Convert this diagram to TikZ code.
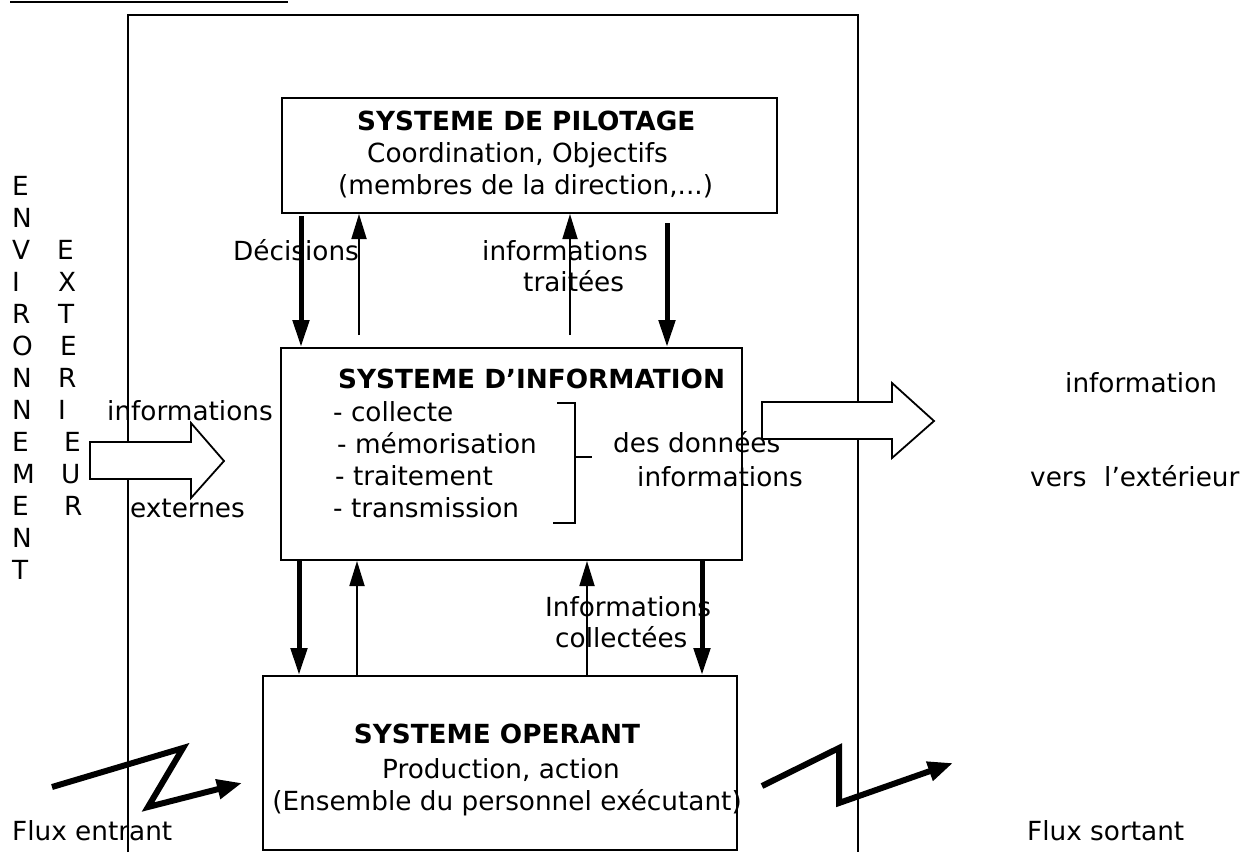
\documentclass[tikz,border=0pt]{standalone}
\usepackage{fontspec}
\setmainfont{DejaVu Sans}
\usetikzlibrary{arrows.meta}
\begin{document}
\begin{tikzpicture}[x=1pt,y=-1pt,
  box/.style={draw,line width=2pt,inner sep=0pt},
  txt/.style={inner sep=0pt,font=\fontsize{26.3}{32}\selectfont},
  btxt/.style={inner sep=0pt,font=\fontsize{26.3}{32}\selectfont\bfseries},
  bigarrow/.style={line width=5pt,-{Triangle[length=27pt,width=16pt]}},
  smallarrow/.style={line width=1.8pt,-{Triangle[length=25pt,width=15pt]}},
  blockarrow/.style={draw,line width=1.8pt,fill=white,line join=miter},
  zig/.style={line width=6pt,line join=miter,-{Triangle[length=25pt,width=19pt]}},
  plain/.style={line width=2pt}
]
\useasboundingbox (0,0) rectangle (1243,852);

% top underline (cut-off heading)
\draw[plain] (10,2) -- (288,2);
% outer frame
\draw[plain] (128,852) -- (128,15) -- (858,15) -- (858,852);

% boxes
\node[box, minimum width=495pt, minimum height=115pt] (pil) at (529.5,155.5) {};
\node[box, minimum width=461pt, minimum height=212pt] (info) at (511.5,454) {};
\node[box, minimum width=474pt, minimum height=174pt] (op) at (500,763) {};

% pilotage texts
\node[btxt, anchor=base west] (pilt) at (357,130) {SYSTEME DE PILOTAGE};
\node[txt, anchor=base west] (pil2) at (367,162) {Coordination, Objectifs};
\node[txt, anchor=base west] (pil3) at (338,194) {(membres de la direction,...)};

% information texts
\node[btxt, anchor=base west] (inft) at (338,388) {SYSTEME D’INFORMATION};
\node[txt, anchor=base west] (i1) at (333,421) {- collecte};
\node[txt, anchor=base west] (i2) at (337,453) {- mémorisation};
\node[txt, anchor=base west] (i3) at (335,485) {- traitement};
\node[txt, anchor=base west] (i4) at (333,517) {- transmission};
\node[txt, anchor=base west] (dd) at (613,452) {des données};
\node[txt, anchor=base west] (di) at (637,486) {informations};

% bracket
\draw[plain] (557,403) -- (575,403) -- (575,523) -- (553,523);
\draw[plain] (575,457) -- (592,457);

% operant texts
\node[btxt, anchor=base] (opt) at (497,743) {SYSTEME OPERANT};
\node[txt, anchor=base] (op2) at (501,778) {Production, action};
\node[txt, anchor=base] (op3) at (507,810) {(Ensemble du personnel exécutant)};

% column coordinates
\coordinate (ca) at (301,0);
\coordinate (cb) at (359,0);
\coordinate (cc) at (570,0);
\coordinate (cd) at (667,0);
\coordinate (ce) at (299,0);
\coordinate (cf) at (357,0);
\coordinate (cg) at (587,0);
\coordinate (ch) at (702,0);

% arrows pilotage <-> information
\draw[bigarrow, shorten <=2pt] (pil.south -| ca) -- (info.north -| ca);
\draw[smallarrow, shorten <=12pt] (info.north -| cb) -- (pil.south -| cb);
\draw[smallarrow, shorten <=12pt] (info.north -| cc) -- (pil.south -| cc);
\draw[bigarrow, shorten <=9pt] (pil.south -| cd) -- (info.north -| cd);

% arrows information <-> operant
\draw[bigarrow] (info.south -| ce) -- (op.north -| ce);
\draw[smallarrow] (op.north -| cf) -- (info.south -| cf);
\draw[smallarrow] (op.north -| cg) -- (info.south -| cg);
\draw[bigarrow] (info.south -| ch) -- (op.north -| ch);

% arrow labels
\node[txt, anchor=base west] (dec) at (233,260) {Décisions};
\node[txt, anchor=base west] (it1) at (482,260) {informations};
\node[txt, anchor=base west] (it2) at (523,291) {traitées};
\node[txt, anchor=base west] (ic1) at (545,616) {Informations};
\node[txt, anchor=base west] (ic2) at (555,647) {collectées};

% block arrows
\path[blockarrow] (90,442) -- (191,442) -- (191,423) -- (224,461) -- (191,498) -- (191,479) -- (90,479) -- cycle;
\path[blockarrow] (762,402) -- (892,402) -- (892,383) -- (934,421) -- (892,458) -- (892,439) -- (762,439) -- cycle;

\node[txt, anchor=base west] (ie1) at (107,420) {informations};
\node[txt, anchor=base west] (ie2) at (130,517) {externes};
\node[txt, anchor=base west] (ix1) at (1065,392) {information};
\node[txt, anchor=base west] (ix2) at (1030,486) {vers};
\node[txt, anchor=base west] (ix3) at (1104,486) {l’extérieur};

% vertical ENVIRONNEMENT
\node[txt, anchor=base west] (v1) at (12,195) {E};
\node[txt, anchor=base west] (v2) at (12,227) {N};
\node[txt, anchor=base west] (v3) at (12,259) {V};
\node[txt, anchor=base west] (v4) at (12,291) {I};
\node[txt, anchor=base west] (v5) at (12,323) {R};
\node[txt, anchor=base west] (v6) at (12,355) {O};
\node[txt, anchor=base west] (v7) at (12,387) {N};
\node[txt, anchor=base west] (v8) at (12,419) {N};
\node[txt, anchor=base west] (v9) at (12,451) {E};
\node[txt, anchor=base west] (v10) at (12,483) {M};
\node[txt, anchor=base west] (v11) at (12,515) {E};
\node[txt, anchor=base west] (v12) at (12,547) {N};
\node[txt, anchor=base west] (v13) at (12,579) {T};
% vertical EXTERIEUR
\node[txt, anchor=base west] (w1) at (57,259) {E};
\node[txt, anchor=base west] (w2) at (58,291) {X};
\node[txt, anchor=base west] (w3) at (58,323) {T};
\node[txt, anchor=base west] (w4) at (60,355) {E};
\node[txt, anchor=base west] (w5) at (58,387) {R};
\node[txt, anchor=base west] (w6) at (58,419) {I};
\node[txt, anchor=base west] (w7) at (64,451) {E};
\node[txt, anchor=base west] (w8) at (61,483) {U};
\node[txt, anchor=base west] (w9) at (64,515) {R};

% flux
\draw[zig] (52,787) -- (183,748) -- (148,807) -- (242,783);
\draw[zig] (762,786) -- (839,748) -- (839,803) -- (953,763);
\node[txt, anchor=base west] (fe) at (12,840) {Flux entrant};
\node[txt, anchor=base west] (fs) at (1027,840) {Flux sortant};
\end{tikzpicture}
\end{document}
